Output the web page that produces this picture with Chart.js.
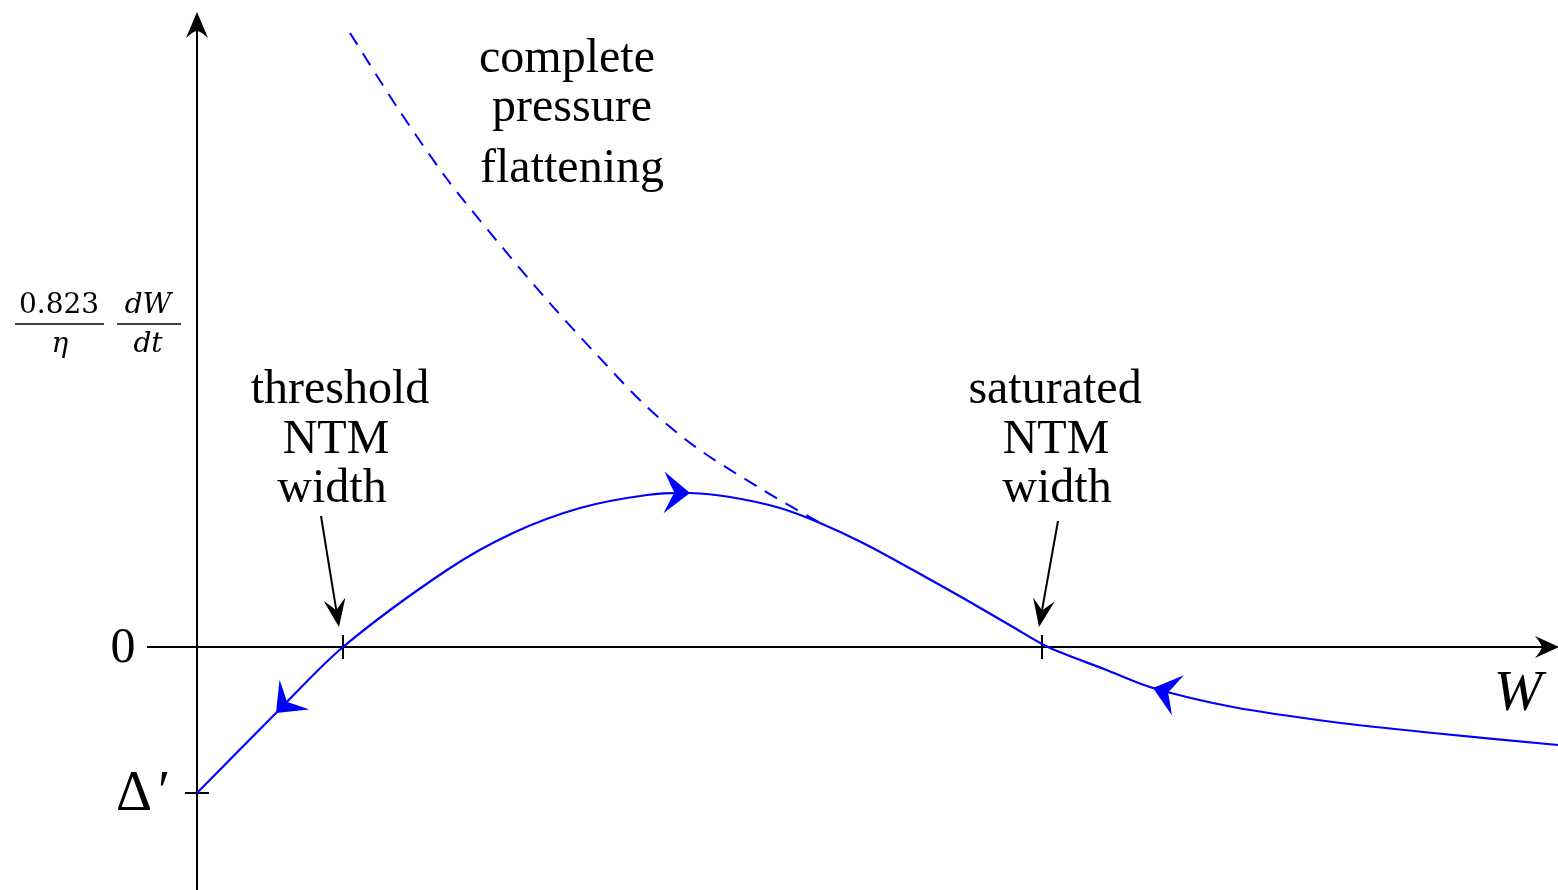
<!DOCTYPE html>
<html>
<head>
<meta charset="utf-8">
<script src="https://cdn.jsdelivr.net/npm/chart.js@4.4.0/dist/chart.umd.min.js"></script>
<style>
  html, body { margin: 0; padding: 0; background: #fff; overflow: hidden; }
  #wrap { width: 1558px; height: 890px; }
</style>
</head>
<body>
<div id="wrap"><canvas id="ntmChart"></canvas></div>
<script>
// island growth curve (solid) and full flattening curve (dashed), schematic units
const growthW    = [0, 0.79, 1.46, 2.50, 3.16, 3.83, 4.50, 4.93, 5.33, 5.83, 6.23, 6.66, 7.16, 7.66, 8.16, 8.51, 9.07, 9.56, 10.36, 11.36, 12.36, 13.61];
const growthRate = [-1.46, -0.66, 0, 0.77, 1.14, 1.39, 1.52, 1.54, 1.50, 1.39, 1.24, 1.04, 0.77, 0.49, 0.20, 0, -0.22, -0.41, -0.60, -0.75, -0.86, -0.98];
const flatW      = [1.53, 2.00, 2.50, 3.00, 3.50, 4.00, 4.50, 5.00, 5.66, 6.23];
const flatRate   = [6.14, 5.40, 4.68, 4.06, 3.47, 2.92, 2.40, 1.99, 1.57, 1.24];
const yTickValues = [0, -1.46];
const yTickLabels = ['0', 'Δ', '′'];
const markW = [1.46, 8.45];
const markNames = [['threshold', 'NTM', 'width'], ['saturated', 'NTM', 'width']];
const flatNames = ['complete', 'pressure', 'flattening'];

const serif = '"Liberation Serif", "DejaVu Serif", serif';
const mathFont = '"DejaVu Serif", serif';

// latex-style arrow tip: tip at (x, y), pointing along ang
function arrowHead(ctx, x, y, ang, len, wid, notch) {
    ctx.save();
    ctx.translate(x, y);
    ctx.rotate(ang);
    ctx.beginPath();
    ctx.moveTo(0, 0);
    ctx.lineTo(-len, -wid / 2);
    ctx.quadraticCurveTo(-len * 0.74, -wid * 0.16, -len * notch, 0);
    ctx.quadraticCurveTo(-len * 0.74, wid * 0.16, -len, wid / 2);
    ctx.closePath();
    ctx.fill();
    ctx.restore();
}

const sketch = {
    id: 'sketch',
    beforeDatasetsDraw(chart) {
        const ctx = chart.ctx;
        const X = v => chart.scales.x.getPixelForValue(v);
        const Y = v => chart.scales.y.getPixelForValue(v);
        ctx.save();
        ctx.strokeStyle = '#000';
        ctx.fillStyle = '#000';
        ctx.lineWidth = 2;
        // axes
        ctx.beginPath();
        ctx.moveTo(X(-0.5), Y(0));
        ctx.lineTo(X(13.5), Y(0));
        ctx.moveTo(X(0), Y(-2.43));
        ctx.lineTo(X(0), Y(6.2));
        ctx.stroke();
        arrowHead(ctx, X(13.62), Y(0), 0, 24, 22, 0.72);
        arrowHead(ctx, X(0), Y(6.35), -Math.PI / 2, 26, 22, 0.72);
        // ticks
        ctx.beginPath();
        ctx.moveTo(X(-0.12), Y(yTickValues[1]));
        ctx.lineTo(X(0.12), Y(yTickValues[1]));
        markW.forEach(w => {
            ctx.moveTo(X(w), Y(0) - 12);
            ctx.lineTo(X(w), Y(0) + 12);
        });
        ctx.stroke();
        ctx.restore();
    },
    afterDatasetsDraw(chart) {
        const ctx = chart.ctx;
        const X = v => chart.scales.x.getPixelForValue(v);
        const Y = v => chart.scales.y.getPixelForValue(v);
        ctx.save();

        // flow arrows on the solid curve
        const pts = chart.getDatasetMeta(0).data;
        ctx.fillStyle = '#0000ff';
        [[1, -1], [7, 1], [17, -1]].forEach(([i, dir]) => {
            const dx = (pts[i + 1].x - pts[i - 1].x) * dir;
            const dy = (pts[i + 1].y - pts[i - 1].y) * dir;
            arrowHead(ctx, pts[i].x, pts[i].y, Math.atan2(dy, dx), 26, 42, 0.6);
        });

        // annotation arrows
        ctx.strokeStyle = '#000';
        ctx.fillStyle = '#000';
        ctx.lineWidth = 2;
        [[1.24, 1.31, 1.42, 0.20], [8.61, 1.26, 8.42, 0.20]].forEach(([w0, r0, w1, r1]) => {
            const x0 = X(w0), y0 = Y(r0), x1 = X(w1), y1 = Y(r1);
            const ang = Math.atan2(y1 - y0, x1 - x0);
            ctx.beginPath();
            ctx.moveTo(x0, y0);
            ctx.lineTo(x1 - 14 * Math.cos(ang), y1 - 14 * Math.sin(ang));
            ctx.stroke();
            arrowHead(ctx, x1, y1, ang, 28, 22, 0.6);
        });

        // text
        ctx.textAlign = 'center';
        ctx.textBaseline = 'alphabetic';
        ctx.font = '48px ' + serif;
        const flatPos = [[3.70, 5.75], [3.75, 5.26], [3.75, 4.65]];
        flatNames.forEach((t, k) => ctx.fillText(t, X(flatPos[k][0]), Y(flatPos[k][1])));
        const markPos = [[[1.43, 2.44], [1.39, 1.94], [1.35, 1.45]], [[8.58, 2.44], [8.59, 1.94], [8.60, 1.45]]];
        markNames.forEach((lines, m) => {
            lines.forEach((t, k) => ctx.fillText(t, X(markPos[m][k][0]), Y(markPos[m][k][1])));
        });

        // y tick labels
        ctx.font = '50px ' + serif;
        ctx.fillText(yTickLabels[0], X(-0.74), Y(yTickValues[0]) + 15);
        ctx.textAlign = 'left';
        ctx.font = '56px ' + serif;
        ctx.fillText(yTickLabels[1], X(-0.81), Y(yTickValues[1]) + 17);
        ctx.fillText(yTickLabels[2], X(-0.39), Y(yTickValues[1]) + 17);
        ctx.textAlign = 'center';

        // axis names
        ctx.font = 'italic 58px ' + serif;
        ctx.fillText('W', X(13.21), Y(-0.63));

        // y axis label: 0.823/eta dW/dt
        const fy = Y(3.23);
        ctx.font = '28px ' + mathFont;
        ctx.fillText('0.823', X(-1.38), fy - 11);
        ctx.font = 'italic 28px ' + mathFont;
        ctx.fillText('η', X(-1.37), fy + 28);
        ctx.fillText('dW', X(-0.49), fy - 11);
        ctx.fillText('dt', X(-0.49), fy + 28);
        ctx.lineWidth = 1.6;
        ctx.beginPath();
        ctx.moveTo(X(-1.82), fy);
        ctx.lineTo(X(-0.93), fy);
        ctx.moveTo(X(-0.80), fy);
        ctx.lineTo(X(-0.16), fy);
        ctx.stroke();

        ctx.restore();
    }
};

new Chart(document.getElementById('ntmChart').getContext('2d'), {
    type: 'line',
    data: {
        datasets: [{
            data: growthW.map((w, i) => ({ x: w, y: growthRate[i] })),
            borderColor: '#0000ff',
            borderWidth: 2.2,
            pointRadius: 0,
            tension: 0.3,
            fill: false
        }, {
            data: flatW.map((w, i) => ({ x: w, y: flatRate[i] })),
            borderColor: '#0000ff',
            borderWidth: 2,
            borderDash: [14, 10],
            pointRadius: 0,
            tension: 0.3,
            fill: false
        }]
    },
    options: {
        responsive: true,
        maintainAspectRatio: false,
        animation: false,
        layout: { padding: 0 },
        plugins: {
            legend: { display: false },
            tooltip: { enabled: false }
        },
        scales: {
            x: { type: 'linear', min: -1.97, max: 13.61, display: false },
            y: { type: 'linear', min: -2.43, max: 6.47, display: false }
        }
    },
    plugins: [sketch]
});
</script>
</body>
</html>
